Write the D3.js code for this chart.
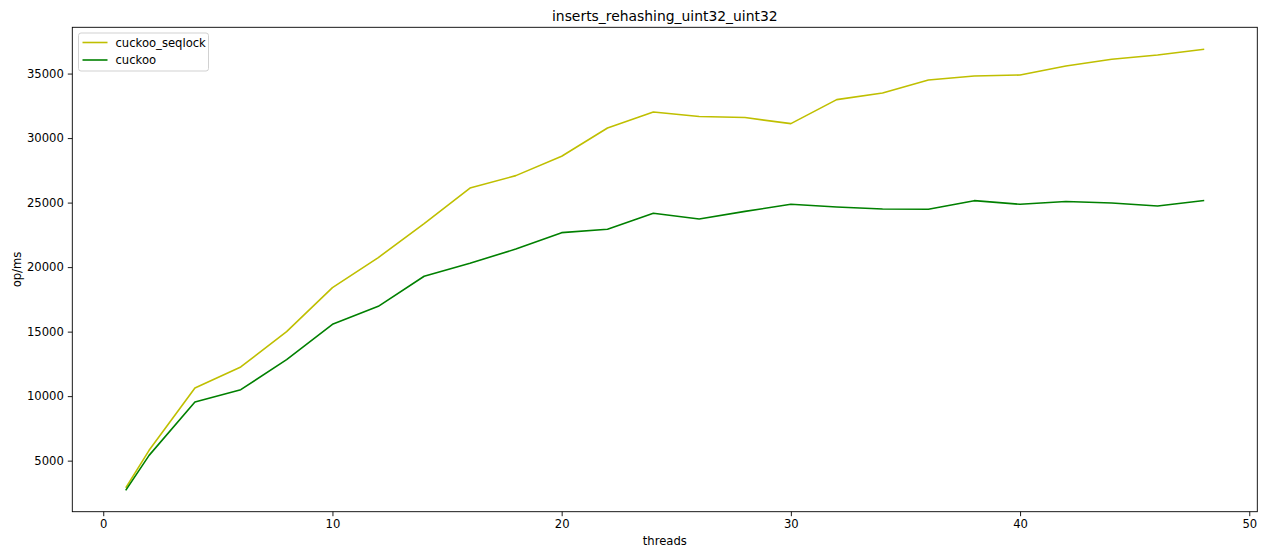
<!DOCTYPE html>
<html>
<head>
<meta charset="utf-8">
<script src="https://cdn.jsdelivr.net/npm/d3@7"></script>
<style>
  html, body { margin: 0; padding: 0; background: #fff; }
  svg { display: block; font-family: "DejaVu Sans", sans-serif; }
</style>
</head>
<body>
<svg id="chart" width="1272" height="550"></svg>
<script>
// Insert throughput with rehashing, by thread count
const threads = [1, 2, 4, 6, 8, 10, 12, 14, 16, 18, 20, 22, 24, 26, 28, 30, 32, 34, 36, 38, 40, 42, 44, 46, 48];
const cuckooSeqlock = [2950, 5800, 10630, 12260, 15000, 18410, 20740, 23370, 26130, 27090, 28590, 30780, 32020, 31670, 31590, 31120, 32980, 33500, 34500, 34810, 34890, 35590, 36110, 36440, 36880];
const cuckoo = [2750, 5410, 9540, 10500, 12830, 15570, 16960, 19290, 20300, 21400, 22670, 22930, 24170, 23730, 24320, 24870, 24660, 24500, 24480, 25150, 24870, 25080, 24970, 24740, 25150];
const seriesNames = ["cuckoo_seqlock", "cuckoo"];
const seriesColors = ["#bfbf00", "#008000"];
const xTicks = [0, 10, 20, 30, 40, 50];
const yTicks = [5000, 10000, 15000, 20000, 25000, 30000, 35000];
const titleText = "inserts_rehashing_uint32_uint32";
const xLabel = "threads";
const yLabel = "op/ms";

const series = [cuckooSeqlock, cuckoo];

const svg = d3.select("#chart");
const plot = { left: 72.3, right: 1257.3, top: 27.3, bottom: 511.7 };

// 5% padding around the data extent on both axes
const xMin = d3.min(threads), xMax = d3.max(threads);
const xPad = (xMax - xMin) * 0.05;
const allY = series.flat();
const yMin = d3.min(allY), yMax = d3.max(allY);
const yPad = (yMax - yMin) * 0.05;

const x = d3.scaleLinear().domain([xMin - xPad, xMax + xPad]).range([plot.left, plot.right]);
const y = d3.scaleLinear().domain([yMin - yPad, yMax + yPad]).range([plot.bottom, plot.top]);

const tickFont = "11.6px";

// axes
const xAxis = svg.append("g")
  .attr("transform", `translate(0,${plot.bottom})`)
  .call(d3.axisBottom(x).tickValues(xTicks).tickSize(4.5).tickPadding(4).tickFormat(d3.format("d")));
const yAxis = svg.append("g")
  .attr("transform", `translate(${plot.left},0)`)
  .call(d3.axisLeft(y).tickValues(yTicks).tickSize(4.5).tickPadding(4).tickFormat(d3.format("d")));

[xAxis, yAxis].forEach(g => {
  g.select(".domain").remove();
  g.selectAll(".tick line").attr("stroke", "#000").attr("stroke-width", 0.9);
  g.selectAll(".tick text").attr("fill", "#000").style("font-size", tickFont).style("font-family", "DejaVu Sans");
});

// line marks
const line = d3.line().x((d, i) => x(threads[i])).y(d => y(d));
series.forEach((vals, k) => {
  svg.append("path")
    .datum(vals)
    .attr("fill", "none")
    .attr("stroke", seriesColors[k])
    .attr("stroke-width", 1.6)
    .attr("stroke-linejoin", "round")
    .attr("stroke-linecap", "square")
    .attr("d", line);
});

// frame
svg.append("rect")
  .attr("x", plot.left).attr("y", plot.top)
  .attr("width", plot.right - plot.left).attr("height", plot.bottom - plot.top)
  .attr("fill", "none").attr("stroke", "#000").attr("stroke-width", 0.9);

// title and axis labels
svg.append("text")
  .attr("x", (plot.left + plot.right) / 2).attr("y", 21)
  .attr("text-anchor", "middle").style("font-size", "13.9px")
  .text(titleText);
svg.append("text")
  .attr("x", (plot.left + plot.right) / 2).attr("y", 545)
  .attr("text-anchor", "middle").style("font-size", tickFont)
  .text(xLabel);
svg.append("text")
  .attr("transform", `translate(21,${(plot.top + plot.bottom) / 2}) rotate(-90)`)
  .attr("text-anchor", "middle").style("font-size", tickFont)
  .text(yLabel);

// legend
const legend = svg.append("g").attr("transform", "translate(78.5,33)");
legend.append("rect")
  .attr("width", 130).attr("height", 38).attr("rx", 2.5)
  .attr("fill", "#fff").attr("fill-opacity", 0.8)
  .attr("stroke", "#ccc").attr("stroke-width", 0.9);
seriesNames.forEach((name, k) => {
  const ly = 9.5 + k * 17.5;
  legend.append("line")
    .attr("x1", 4).attr("x2", 29).attr("y1", ly).attr("y2", ly)
    .attr("stroke", seriesColors[k]).attr("stroke-width", 1.6);
  legend.append("text")
    .attr("x", 37).attr("y", ly + 4)
    .style("font-size", tickFont)
    .text(name);
});
</script>
</body>
</html>
